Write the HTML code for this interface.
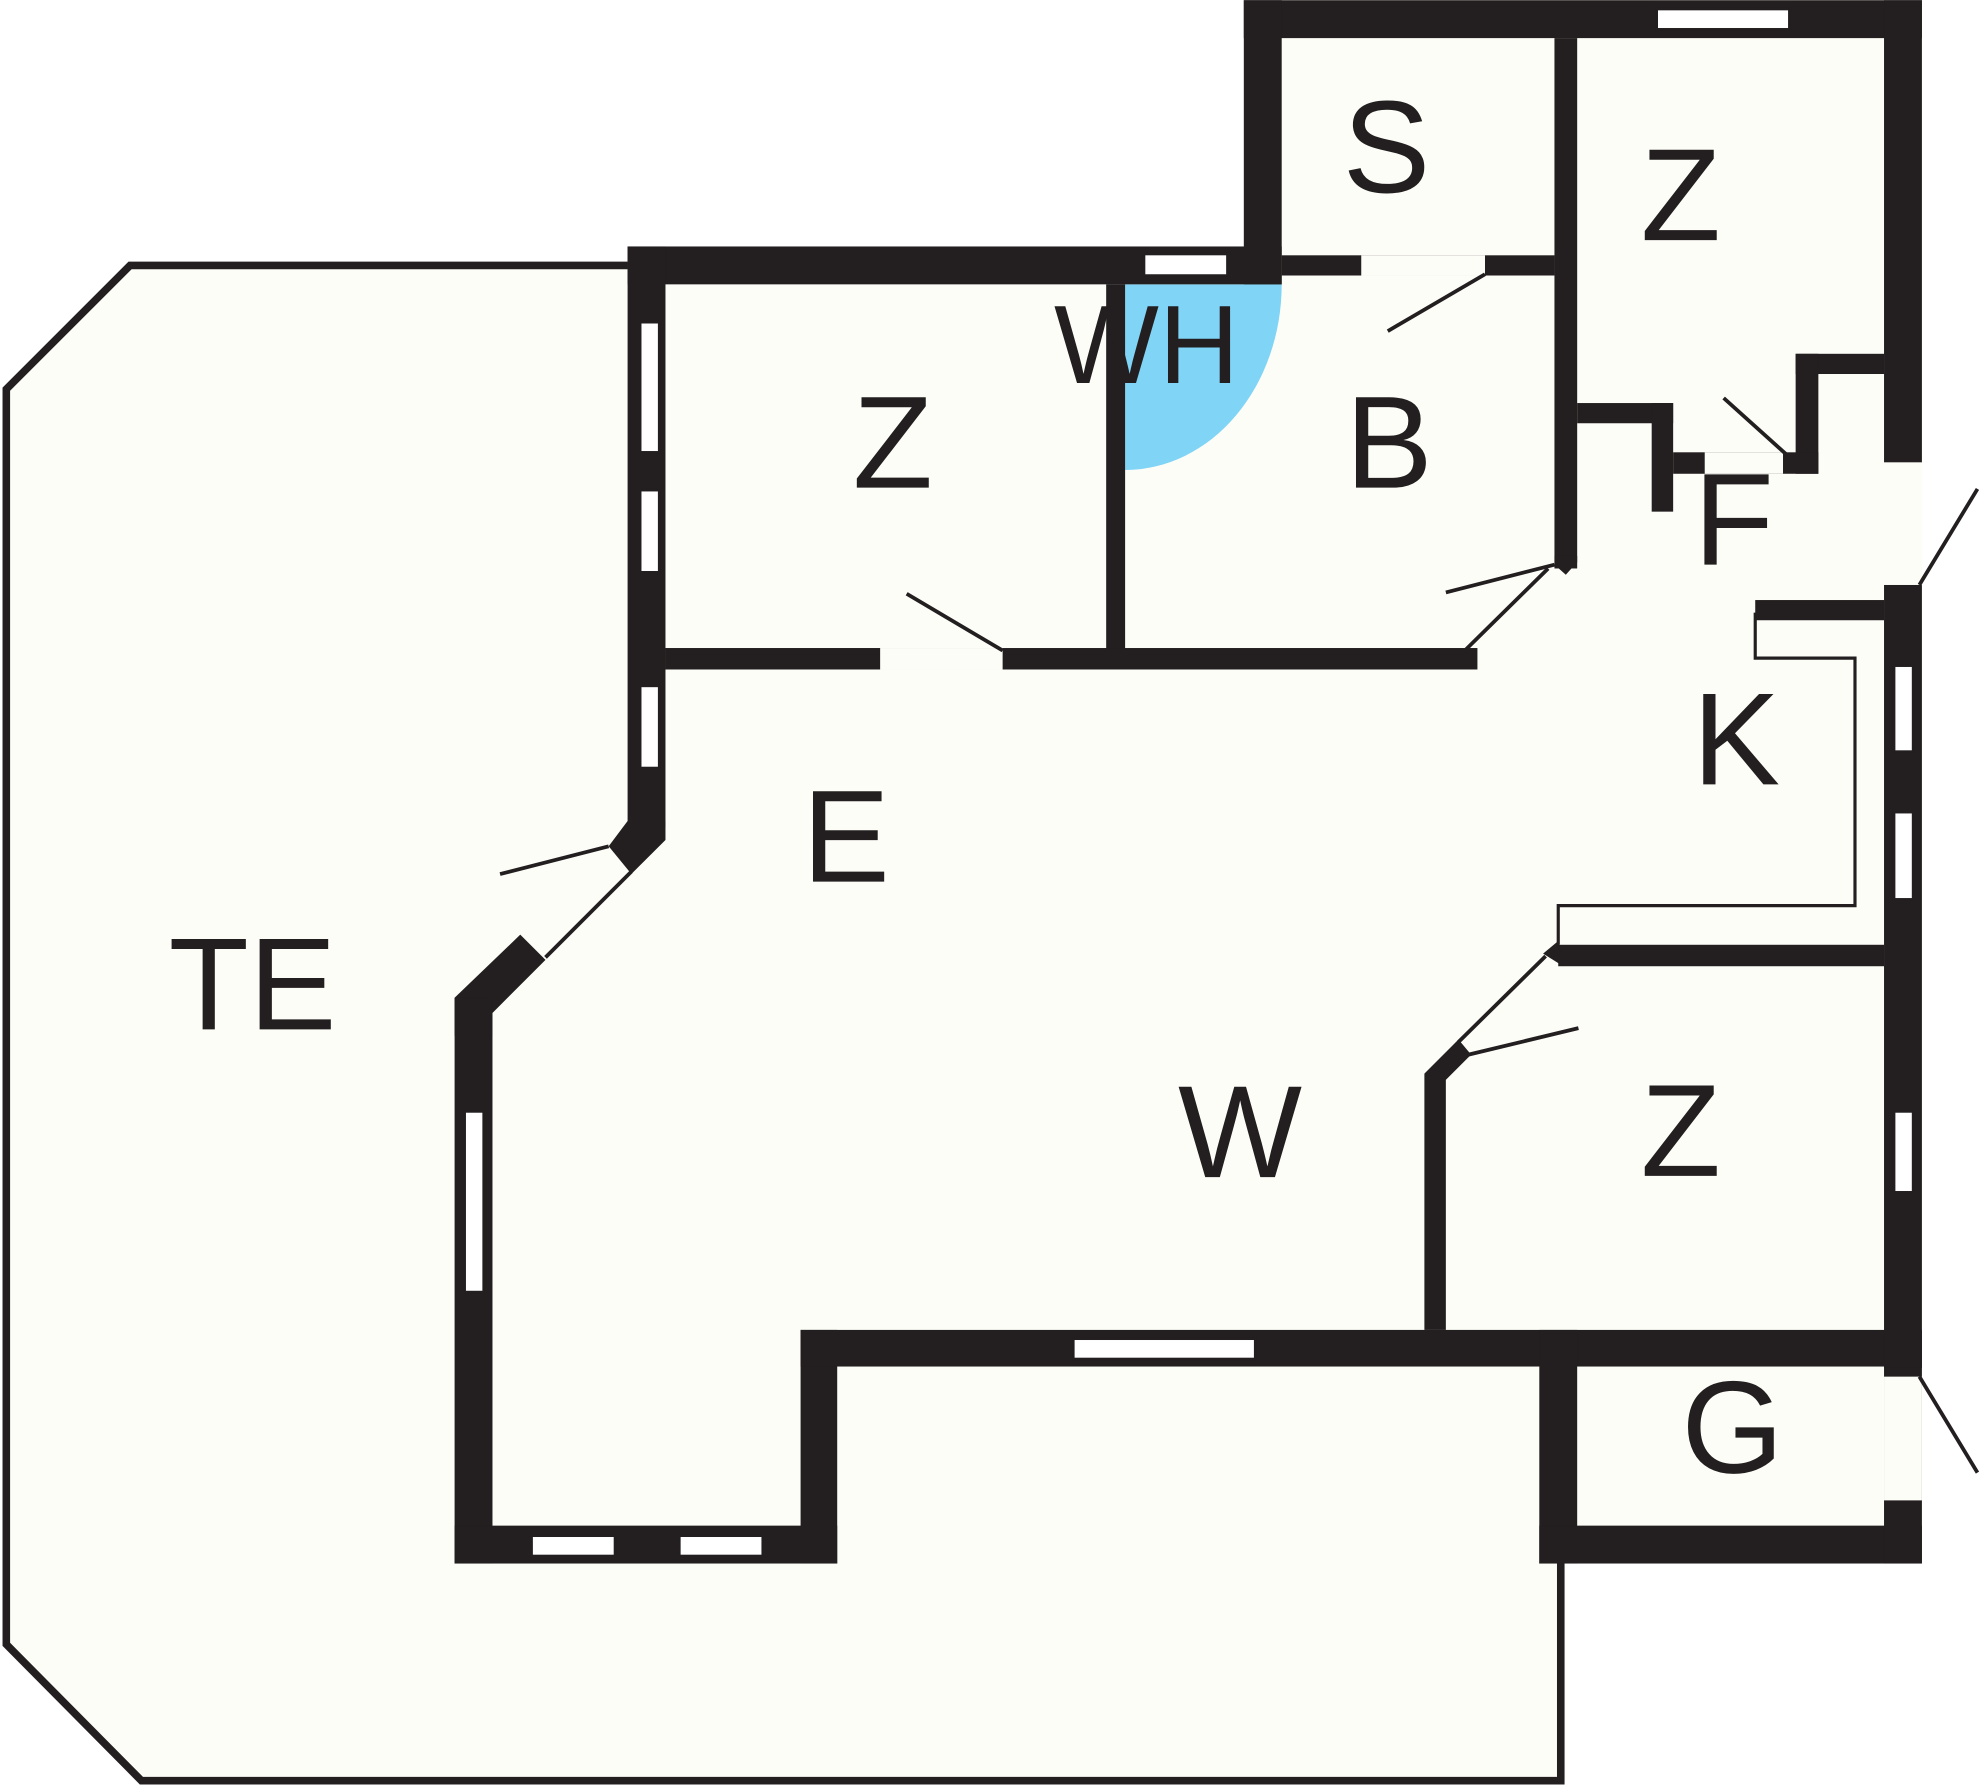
<!DOCTYPE html>
<html><head><meta charset="utf-8"><style>html,body{margin:0;padding:0;background:#fff}svg{display:block}</style></head>
<body>
<svg width="1980" height="1786" viewBox="0 0 1568 1414" xmlns="http://www.w3.org/2000/svg">
<rect width="1568" height="1414" fill="#fff"/>
<!-- terrace -->
<polygon points="103,210 1240,210 1240,1410 112,1410 5,1302 5,308" fill="#fdfdf8"/>
<polyline points="497,210 103,210 5,308 5,1302 112,1410 1236,1410 1236,1238" fill="none" stroke="#231f20" stroke-width="6"/>
<!-- interior floor -->
<polygon points="497,195 985,195 985,0 1522,0 1522,1238 1219,1238 1219,1082 663,1082 663,1238 360,1238 360,790 412,740 482,670 497,655" fill="#fdfdf8"/>
<path d="M891,225 L1015,225 A124,147 0 0 1 891,372 Z" fill="#80d4f5"/>
<g fill="#231f20">
<rect x="985" y="0" width="537" height="30"/>
<rect x="985" y="0" width="30" height="225"/>
<rect x="1492" y="0" width="30" height="366"/>
<rect x="1231" y="30" width="18" height="420"/>
<rect x="1015" y="202" width="216" height="16"/>
<rect x="497" y="195" width="518" height="30"/>
<rect x="497" y="195" width="30" height="460"/>
<polygon points="497,650 527,650 527,665 500,692 482,670"/>
<polygon points="412,740 432,760 390,802 390,820 360,820 360,790"/>
<rect x="360" y="790" width="30" height="448"/>
<rect x="360" y="1208" width="303" height="30"/>
<rect x="634" y="1053" width="29" height="185"/>
<rect x="634" y="1053" width="888" height="29"/>
<rect x="1219" y="1053" width="30" height="185"/>
<rect x="1219" y="1208" width="303" height="30"/>
<rect x="1492" y="1053" width="30" height="185"/>
<rect x="1492" y="463" width="30" height="620"/>
<rect x="876" y="225" width="15" height="290"/>
<rect x="527" y="513" width="643" height="17"/>
<polygon points="1231,440 1249,440 1249,445 1240,455 1231,447"/>
<rect x="1249" y="319" width="76" height="16"/>
<rect x="1308" y="319" width="17" height="86"/>
<rect x="1422" y="280" width="70" height="16"/>
<rect x="1422" y="280" width="18" height="95"/>
<rect x="1325" y="358" width="115" height="17"/>
<rect x="1390" y="475" width="102" height="16"/>
<rect x="1234" y="748" width="258" height="17"/>
<rect x="1128" y="850" width="17" height="203"/>
<polygon points="1128,850 1155,823 1165,835 1145,855"/>
<polygon points="1222,755 1234,745 1238,765"/>
</g>
<!-- windows/door gaps -->
<g fill="#fff" stroke="#231f20" stroke-width="2">
<rect x="1312" y="7" width="105" height="16"/>
<rect x="906" y="201" width="66" height="17"/>
<rect x="507" y="255" width="15" height="103"/>
<rect x="507" y="388" width="15" height="65"/>
<rect x="507" y="543" width="15" height="65"/>
<rect x="368" y="880" width="15" height="143"/>
<rect x="421" y="1216" width="66" height="16"/>
<rect x="538" y="1216" width="66" height="16"/>
<rect x="850" y="1060" width="144" height="16"/>
<rect x="1500" y="527" width="15" height="68"/>
<rect x="1500" y="643" width="15" height="69"/>
<rect x="1500" y="880" width="15" height="64"/>
</g>
<g fill="#fdfdf8">
<rect x="1078" y="202" width="98" height="16"/>
<rect x="697" y="513" width="97" height="17"/>
<rect x="1492" y="366" width="30" height="97"/>
<rect x="1492" y="1090" width="30" height="98"/>
<rect x="1350" y="358" width="62" height="17"/>
</g>
<g stroke="#231f20" stroke-width="3" fill="none">
<line x1="1099" y1="262" x2="1176" y2="217"/>
<line x1="718" y1="470" x2="794" y2="515"/>
<line x1="1145" y1="469" x2="1231" y2="447"/>
<line x1="1160" y1="515" x2="1226" y2="450"/>
<line x1="396" y1="692" x2="482" y2="670"/>
<line x1="432" y1="758" x2="500" y2="690"/>
<line x1="1163" y1="835" x2="1250" y2="814"/>
<line x1="1155" y1="825" x2="1224" y2="757"/>
<line x1="1365" y1="315" x2="1415" y2="360"/>
<line x1="1520" y1="463" x2="1566" y2="387"/>
<line x1="1520" y1="1090" x2="1566" y2="1166"/>
<polyline points="1390,485 1390,521 1469,521 1469,717 1234,717 1234,748" stroke-width="2.5"/>
</g>
<g font-family="Liberation Sans, sans-serif" fill="#231f20" text-anchor="middle" font-size="104">
<text x="1098" y="152">S</text>
<text x="1331" y="190">Z</text>
<text x="908" y="303" font-size="88">WH</text>
<text x="707" y="386">Z</text>
<text x="1100" y="386">B</text>
<text x="1373" y="447">F</text>
<text x="1375" y="621">K</text>
<text x="670" y="698">E</text>
<text x="200" y="815">TE</text>
<text x="982" y="932">W</text>
<text x="1331" y="931">Z</text>
<text x="1372" y="1166">G</text>
</g>
</svg>
</body></html>
